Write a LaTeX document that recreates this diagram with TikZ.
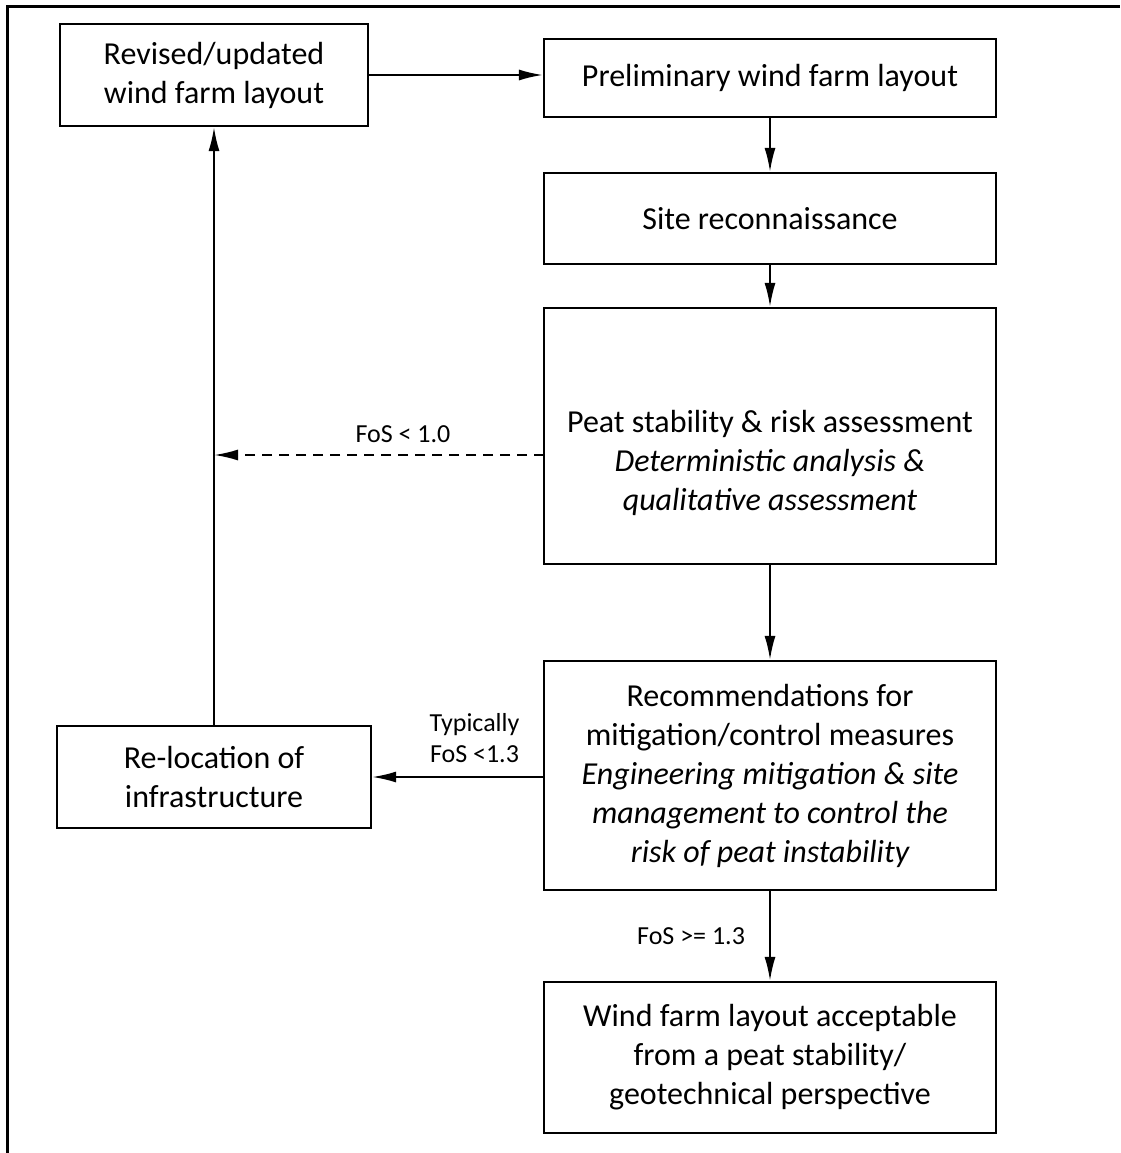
\documentclass[tikz,border=0pt]{standalone}
\usepackage{fontspec}
\setmainfont{Carlito}
\usetikzlibrary{arrows.meta}

\begin{document}
\begin{tikzpicture}[x=1pt,y=-1pt,
    box/.style={draw,line width=2.2pt,align=center,inner sep=0pt,
      font=\fontsize{32}{39}\selectfont},
    lbl/.style={font=\fontsize{26}{31.5}\selectfont,align=center,inner sep=0pt}]
    \useasboundingbox (0,0) rectangle (1120,1153);
    \draw[line width=3pt] (7,1153) -- (7,7) -- (1120,7);

    \node[box,minimum width=308pt,minimum height=102pt] (rev) at (214,75)
      {Revised/updated\\wind farm layout};
    \node[box,minimum width=452pt,minimum height=78pt] (prelim) at (770,78)
      {Preliminary wind farm layout};
    \node[box,minimum width=452pt,minimum height=91pt] (site) at (770,218.5)
      {Site reconnaissance};
    \node[box,minimum width=452pt,minimum height=256pt] (peat) at (770,436)
      {\mbox{}\\[38pt]Peat stability \& risk assessment\\\itshape Deterministic analysis \&\\
       \itshape qualitative assessment};
    \node[box,minimum width=452pt,minimum height=229pt] (rec) at (770,775.5)
      {Recommendations for\\mitigation/control measures\\
       \itshape Engineering mitigation \& site\\\itshape management to control the\\
       \itshape risk of peat instability};
    \node[box,minimum width=452pt,minimum height=151pt] (accept) at (770,1057.5)
      {Wind farm layout acceptable\\from a peat stability/\\geotechnical perspective};
    \node[box,minimum width=314pt,minimum height=102pt] (reloc) at (214,777)
      {Re-location of\\infrastructure};
    \coordinate (fail) at (544,455);

    \path[->, line width=2pt, >={Latex[length=24pt,width=11pt]}]
    (rev.east) edge (rev.east -| prelim.west)
    (prelim) edge (site)
    (site) edge (peat)
    (peat) edge (rec)
    (rec) edge node[lbl,left=24pt]{FoS >= 1.3} (accept)
    (reloc.east -| rec.west) edge node[lbl,above=13pt,xshift=17pt]{Typically\\FoS <1.3} (reloc.east)
    (reloc) edge (rev)
    (fail) edge[dash pattern=on 10pt off 7pt] node[lbl,above=11pt,xshift=24pt]{FoS < 1.0} (fail -| reloc.north);
\end{tikzpicture}
\end{document}
